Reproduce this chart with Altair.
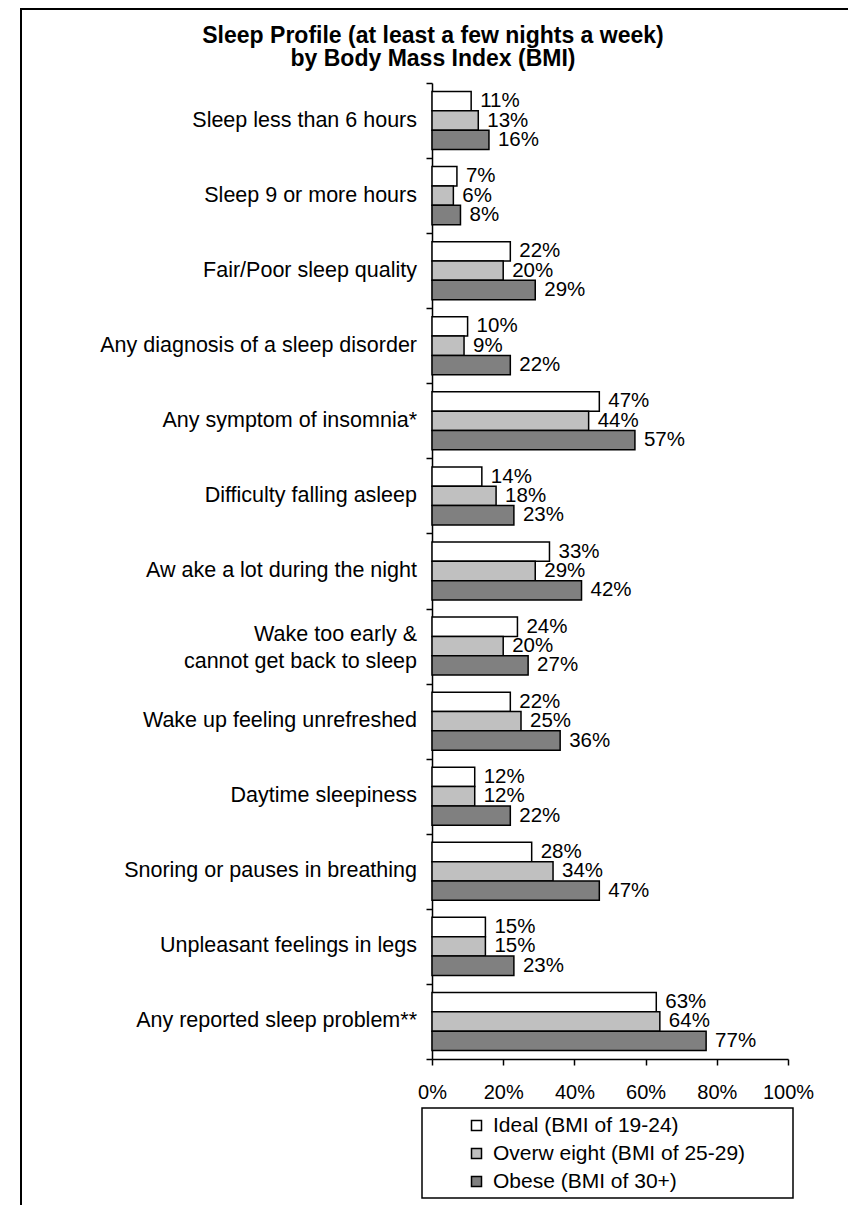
import altair as alt
import pandas as pd

categories = [
    "Sleep less than 6 hours",
    "Sleep 9 or more hours",
    "Fair/Poor sleep quality",
    "Any diagnosis of a sleep disorder",
    "Any symptom of insomnia*",
    "Difficulty falling asleep",
    "Aw ake a lot during the night",
    "Wake too early &|cannot get back to sleep",
    "Wake up feeling unrefreshed",
    "Daytime sleepiness",
    "Snoring or pauses in breathing",
    "Unpleasant feelings in legs",
    "Any reported sleep problem**",
]
series = ["Ideal (BMI of 19-24)", "Overw eight (BMI of 25-29)", "Obese (BMI of 30+)"]
ideal = [11, 7, 22, 10, 47, 14, 33, 24, 22, 12, 28, 15, 63]
overweight = [13, 6, 20, 9, 44, 18, 29, 20, 25, 12, 34, 15, 64]
obese = [16, 8, 29, 22, 57, 23, 42, 27, 36, 22, 47, 23, 77]
x_ticks = [0, 20, 40, 60, 80, 100]
colors = ["#ffffff", "#c0c0c0", "#808080"]
title_lines = ["Sleep Profile (at least a few nights a week)", "by Body Mass Index (BMI)"]

rows = []
for s, vals in zip(series, [ideal, overweight, obese]):
    for c, v in zip(categories, vals):
        rows.append({"category": c, "series": s, "value": v})
df = pd.DataFrame(rows)
cat_df = pd.DataFrame({"category": categories, "multi": ["|" in c for c in categories]})

FONT = "Liberation Sans"

y_enc = alt.Y(
    "category:N",
    sort=categories,
    scale=alt.Scale(paddingInner=0, paddingOuter=0),
    axis=alt.Axis(
        title=None,
        tickBand="extent",
        tickSize=6,
        tickColor="black",
        tickWidth=1.5,
        domainColor="black",
        domainWidth=1.5,
        labels=False,
    ),
)
yoff_enc = alt.YOffset(
    "series:N", sort=series, scale=alt.Scale(paddingInner=0, paddingOuter=0.44)
)
x_enc = alt.X(
    "value:Q",
    scale=alt.Scale(domain=[0, 100]),
    axis=alt.Axis(
        title=None,
        values=x_ticks,
        labelExpr="datum.value + '%'",
        labelFlush=False,
        tickSize=6,
        tickColor="black",
        tickWidth=1.5,
        domainColor="black",
        domainWidth=1.5,
        labelFontSize=20,
        labelFont=FONT,
        labelColor="black",
        labelPadding=17,
        grid=False,
    ),
)

bars = alt.Chart(df).mark_bar(stroke="black", strokeWidth=1.5).encode(
    y=y_enc,
    yOffset=yoff_enc,
    x=x_enc,
    fill=alt.Fill(
        "series:N",
        sort=series,
        scale=alt.Scale(domain=series, range=colors),
        legend=alt.Legend(
            title=None,
            orient="none",
            legendX=34,
            legendY=1032,
            symbolType="square",
            symbolSize=100,
            symbolStrokeColor="black",
            symbolStrokeWidth=1.5,
            labelFontSize=21,
            labelFont=FONT,
            labelColor="black",
            labelOffset=6,
            rowPadding=6,
            labelLimit=0,
        ),
    ),
)

labels = alt.Chart(df).transform_calculate(
    lbl="datum.value + '%'"
).mark_text(align="left", baseline="middle", dx=9, fontSize=20.5, font=FONT, color="black").encode(
    y=alt.Y("category:N", sort=categories),
    yOffset=alt.YOffset("series:N", sort=series),
    x=alt.X("value:Q"),
    text="lbl:N",
)

cat_single = alt.Chart(cat_df).transform_filter("!datum.multi").mark_text(
    align="right", baseline="middle", fontSize=21.5, font=FONT, color="black"
).encode(
    y=alt.Y("category:N", sort=categories),
    x=alt.value(-15),
    text="category:N",
)
cat_multi = alt.Chart(cat_df).transform_filter("datum.multi").mark_text(
    align="right", baseline="middle", fontSize=21.5, font=FONT, color="black",
    lineBreak="|", lineHeight=27, dy=-11,
).encode(
    y=alt.Y("category:N", sort=categories),
    x=alt.value(-15),
    text="category:N",
)

one = pd.DataFrame({"k": [0]})
frame = alt.Chart(one).mark_rect(fillOpacity=0, stroke="black", strokeWidth=2).encode(
    x=alt.value(-411), x2=alt.value(418), y=alt.value(-74), y2=alt.value(1160)
)
legend_box = alt.Chart(one).mark_rect(fill="white", stroke="black", strokeWidth=1.5).encode(
    x=alt.value(-10), x2=alt.value(361), y=alt.value(1025), y2=alt.value(1115)
)

title_df = pd.DataFrame({"t": ["|".join(title_lines)]})
title = alt.Chart(title_df).mark_text(
    fontSize=23,
    fontWeight="bold",
    font=FONT,
    color="black",
    align="center",
    baseline="alphabetic",
    lineBreak="|",
    lineHeight=23,
).encode(x=alt.value(1), y=alt.value(-40), text="t:N")

chart = alt.layer(frame, legend_box, bars, labels, cat_single, cat_multi, title).properties(
    width=356,
    height=976,
    padding={"left": 424, "top": 75, "right": 60, "bottom": 150},
    autosize=alt.AutoSizeParams(type="none"),
).configure(font=FONT).configure_view(strokeWidth=0, stroke="transparent")

chart.save("out.html", embed_options={"renderer": "svg", "actions": False})
